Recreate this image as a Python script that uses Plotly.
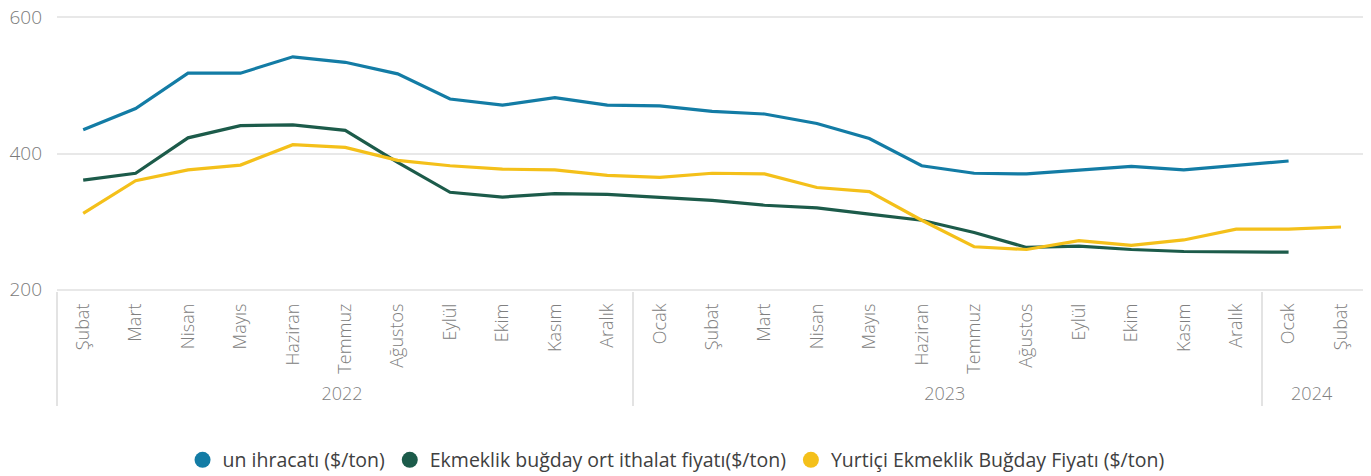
import plotly.graph_objects as go

ZW = "\u200b"
years = ["2022"] * 11 + ["2023"] * 12 + ["2024"] * 2
months_2022 = ["Şubat", "Mart", "Nisan", "Mayıs", "Haziran", "Temmuz", "Ağustos", "Eylül", "Ekim", "Kasım", "Aralık"]
months_2023 = ["Ocak", "Şubat", "Mart", "Nisan", "Mayıs", "Haziran", "Temmuz", "Ağustos", "Eylül", "Ekim", "Kasım", "Aralık"]
months_2024 = ["Ocak", "Şubat"]
# zero-width suffixes keep each year's month labels distinct so Plotly preserves chronological order
months = months_2022 + [m + ZW for m in months_2023] + [m + ZW * 2 for m in months_2024]

un_ihracati = [435, 466, 518, 518, 542, 534, 517, 480, 471, 482, 471,
               470, 462, 458, 444, 422, 382, 371, 370, 375, 381, 376, 382,
               389, None]
ithalat = [361, 371, 423, 441, 442, 434, 387, 343, 336, 341, 340,
           335, 331, 324, 320, 311, 302, 284, 262, 264, 259, 256, 255,
           255, None]
yurtici = [312, 360, 376, 383, 413, 409, 390, 382, 377, 376, 368,
           365, 371, 370, 350, 344, 302, 263, 259, 272, 265, 273, 289,
           289, 292]

names = ["un ihracatı ($/ton)", "Ekmeklik buğday ort ithalat fiyatı($/ton)", "Yurtiçi Ekmeklik Buğday Fiyatı ($/ton)"]
colors = ["#137ca5", "#1c5b4a", "#f4c01a"]
series = [un_ihracati, ithalat, yurtici]

fig = go.Figure()
for name, color, vals in zip(names, colors, series):
    fig.add_trace(go.Scatter(x=[years, months], y=vals, mode="lines", name=name,
                             line=dict(color=color, width=3.2), showlegend=False,
                             connectgaps=False))
for name, color in zip(names, colors):
    fig.add_trace(go.Scatter(x=[[None], [None]], y=[None], mode="markers", name=name,
                             marker=dict(color=color, size=22), showlegend=True))

fig.update_layout(
    width=1371, height=476,
    margin=dict(l=57, r=8, t=16, b=185, autoexpand=False),
    paper_bgcolor="white", plot_bgcolor="white",
    font=dict(family="Open Sans, sans-serif", color="#7a7a7a"),
    legend=dict(orientation="h", x=0.474, xanchor="center", y=-0.615, yanchor="middle",
                font=dict(size=19.5, color="#404040"), itemsizing="trace",
                tracegroupgap=0, itemwidth=30),
    showlegend=True,
)
fig.update_xaxes(
    type="multicategory", range=[-0.5, 24.42], automargin=False,
    tickangle=-90, tickfont=dict(size=18, color="#808080", weight=300),
    showgrid=False, showline=False, ticks="", ticklabelstandoff=8,
    showdividers=True, dividercolor="#e3e3e3", dividerwidth=1.5,
)
fig.update_yaxes(
    range=[198, 602], tickvals=[200, 400, 600], ticktext=["200", "400", "600"], automargin=False,
    showgrid=True, gridcolor="#e8e8e8", gridwidth=2, zeroline=False, showline=False,
    tickfont=dict(size=19, color="#7a7a7a", weight=300), ticks="", ticklabelstandoff=14,
    ticklabeloverflow="allow",
)

# remove the default page margin so the figure sits at the window's top-left corner
fig.write_html("out.html", config={"displayModeBar": False},
               post_script="document.body.style.margin='0';")
